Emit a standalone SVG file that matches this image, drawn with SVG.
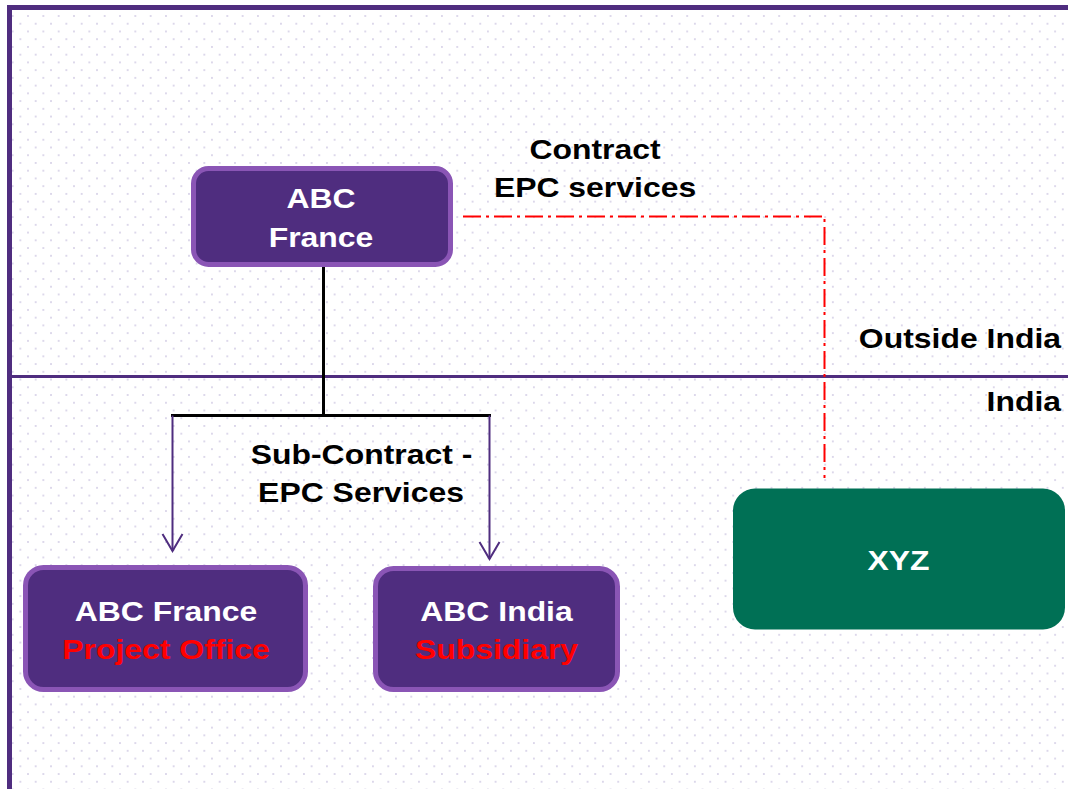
<svg xmlns="http://www.w3.org/2000/svg" width="1068" height="789" viewBox="0 0 1068 789">
<style>
.lbl{font-family:"Liberation Sans",Arial,sans-serif;font-weight:bold;font-size:28.5px;}
.w{fill:#ffffff;}
.k{fill:#000000;}
.r{fill:#ff0000;}
.pbox{fill:#4f2d7f;stroke:#8a55b5;stroke-width:5;}
</style>
<defs>
<pattern id="dots" patternUnits="userSpaceOnUse" x="8.87" y="12.13" width="15.33" height="15.47">
<circle cx="3.83" cy="3.87" r="1" fill="#d3cde5"/>
<circle cx="11.5" cy="11.6" r="1" fill="#d3cde5"/>
</pattern>
<marker id="arr" markerUnits="userSpaceOnUse" markerWidth="22" markerHeight="24" refX="18" refY="11" orient="auto" viewBox="0 0 22 24">
<path d="M1,1 L18,11 L1,21" fill="none" stroke="#4f2d7f" stroke-width="2"/>
</marker>
</defs>
<rect x="0" y="0" width="1068" height="789" fill="#ffffff"/>
<rect x="12" y="10" width="1056" height="779" fill="url(#dots)"/>
<g id="frame" fill="none" stroke="#4f2d7f">
<path d="M9.5,789 V7.5 H1068" stroke-width="5"/>
<line x1="10" y1="376.5" x2="1068" y2="376.5" stroke-width="3"/>
</g>
<g id="connectors" fill="none">
<path d="M463,216.5 H824.5 V478" stroke="#ff0000" stroke-width="2" stroke-dasharray="18,5,3,5"/>
<path d="M323.5,267 V415.5" stroke="#000000" stroke-width="3"/>
<path d="M171,415.5 H491" stroke="#000000" stroke-width="3"/>
<path d="M172.5,415.5 V551" stroke="#4f2d7f" stroke-width="2" marker-end="url(#arr)"/>
<path d="M489.5,415.5 V559" stroke="#4f2d7f" stroke-width="2" marker-end="url(#arr)"/>
</g>
<g id="label-contract" class="lbl k">
<text transform="translate(595,159) scale(1.12,1)" text-anchor="middle">Contract</text>
<text transform="translate(595,197) scale(1.12,1)" text-anchor="middle">EPC services</text>
</g>
<g id="label-subcontract" class="lbl k">
<text transform="translate(361.5,464) scale(1.12,1)" text-anchor="middle">Sub-Contract -</text>
<text transform="translate(361,502) scale(1.12,1)" text-anchor="middle">EPC Services</text>
</g>
<g id="label-outside" class="lbl k">
<text transform="translate(1061,348) scale(1.12,1)" text-anchor="end">Outside India</text>
</g>
<g id="label-india" class="lbl k">
<text transform="translate(1061,411) scale(1.12,1)" text-anchor="end">India</text>
</g>
<g id="node-abc-france">
<rect class="pbox" x="193.5" y="168.5" width="257" height="96" rx="15"/>
<text class="lbl w" transform="translate(321,208) scale(1.12,1)" text-anchor="middle">ABC</text>
<text class="lbl w" transform="translate(321,247) scale(1.12,1)" text-anchor="middle">France</text>
</g>
<g id="node-project-office">
<rect class="pbox" x="25.5" y="567.5" width="280" height="122" rx="18"/>
<text class="lbl w" transform="translate(166,621) scale(1.12,1)" text-anchor="middle">ABC France</text>
<text class="lbl r" transform="translate(166,659) scale(1.12,1)" text-anchor="middle">Project Office</text>
</g>
<g id="node-subsidiary">
<rect class="pbox" x="375.5" y="568.5" width="242" height="121" rx="18"/>
<text class="lbl w" transform="translate(496.5,621) scale(1.12,1)" text-anchor="middle">ABC India</text>
<text class="lbl r" transform="translate(496.5,659) scale(1.12,1)" text-anchor="middle">Subsidiary</text>
</g>
<g id="node-xyz">
<rect x="733" y="488.5" width="332" height="141" rx="22" fill="#007055"/>
<text class="lbl w" transform="translate(898.5,570) scale(1.12,1)" text-anchor="middle">XYZ</text>
</g>
</svg>
